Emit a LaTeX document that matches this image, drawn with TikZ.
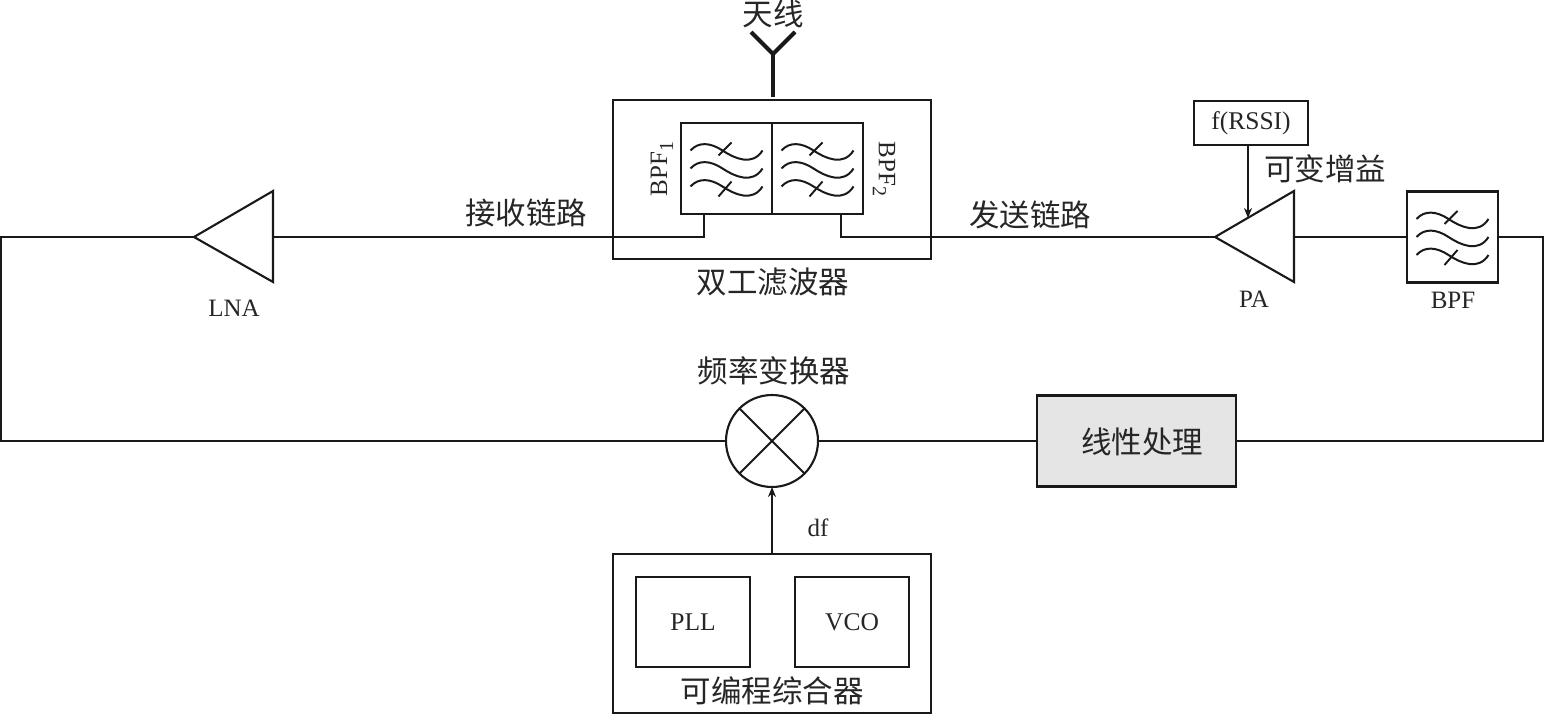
\documentclass[tikz,border=0pt]{standalone}
\usepackage{fontspec}
\setmainfont{Liberation Serif}
\newfontfamily\cjk{Noto Sans CJK SC}
\usetikzlibrary{arrows.meta,calc}
\newcommand{\subnum}[1]{\raisebox{-6pt}{\fontsize{20}{20}\selectfont #1}}
\tikzset{
  line/.style={draw=black!90,line width=2.1pt},
  thinline/.style={draw=black!90,line width=1.7pt},
  boxnode/.style={line,rectangle,inner sep=0pt,outer sep=0pt,minimum width=#1},
  cn/.style={font=\cjk\fontsize{30.5}{30.5}\selectfont,text=black!85,inner sep=0pt},
  lat/.style={font=\fontsize{25}{25}\selectfont,text=black!85,inner sep=0pt},
  arr/.style={thinline,-{Stealth[length=10pt,width=8pt]}},
  wave/.pic={
    \foreach \dy in {-18,0,18}{
      \draw[line width=2pt,black!90,shift={(0,\dy)}] (-36,0) .. controls (-28,-9) and (-16,-8) .. (-4,0) .. controls (8,8) and (26,16) .. (36,0);
    }
    \draw[line width=1.9pt,black!90] (-8,-13) -- (5,-26);
    \draw[line width=1.9pt,black!90] (-8,28) -- (5,13);
  }
}
\begin{document}
\begin{tikzpicture}[x=1pt,y=-1pt]
\useasboundingbox (0,0) rectangle (1544,714);

% boxes
\node[boxnode=318pt,minimum height=159pt] (duplexer) at (772,179.5) {};
\node[boxnode=91pt,minimum height=91pt] (bpfa) at (726.5,168.5) {};
\node[boxnode=91pt,minimum height=91pt] (bpfb) at (817.5,168.5) {};
\node[boxnode=91pt,minimum height=91pt] (bpf) at (1452.5,237) {};
\node[boxnode=114pt,minimum height=44pt,font=\fontsize{25.5}{25.5}\selectfont,text=black!85] (rssi) at (1251,123) {f(RSSI)};
\node[boxnode=199pt,minimum height=91pt,fill=black!10] (linear) at (1136.5,441) {};
\node[boxnode=318pt,minimum height=159pt] (synth) at (772,633.5) {};
\node[boxnode=114pt,minimum height=90pt,font=\fontsize{25.5}{25.5}\selectfont,text=black!85] (pll) at (693,622) {PLL};
\node[boxnode=114pt,minimum height=90pt,font=\fontsize{25.5}{25.5}\selectfont,text=black!85] (vco) at (852,622) {VCO};

\pic at (726.5,168.5) {wave};
\pic at (817.5,168.5) {wave};
\pic at (1452.5,237) {wave};

% mixer
\node[line,circle,inner sep=0pt,outer sep=0pt,minimum size=92pt] (mixer) at (772,441) {};
\draw[line] (mixer.45) -- (mixer.225) (mixer.135) -- (mixer.315);

% amplifiers
\coordinate (lnatip) at (194,237);
\coordinate (lnaback) at (273,237);
\draw[line,line join=miter] (lnatip) -- (273,191) -- (273,282) -- cycle;
\coordinate (patip) at (1215,237);
\coordinate (paback) at (1294,237);
\coordinate (pagain) at (1248,218);
\draw[line,line join=miter] (patip) -- (1294,191) -- (1294,282) -- cycle;

% antenna
\coordinate (antfoot) at (773,97);
\coordinate (antjoin) at (773,54);
\coordinate (antl) at (751,32);
\coordinate (antr) at (795,32);
\draw[line width=4pt,black!90] (antfoot) -- (antjoin);
\draw[line width=4pt,black!90,line join=miter] (antl) -- (antjoin) -- (antr);

% connectors
\coordinate (leftrx) at (704,214);
\coordinate (righttx) at (841,214);
\draw[line] (leftrx) -- (704,237) -- (lnaback);
\draw[line] (righttx) -- (841,237) -- (patip);
\draw[line] (paback) -- (bpf.west);
\draw[line] (lnatip) -- (1,237) -- (1,441) -- (mixer.west);
\draw[line] (mixer.east) -- (linear.west);
\draw[line] (linear.east) -- (1543,441) -- (1543,237) -- (bpf.east);
\draw[arr] (rssi.south -| pagain) -- (pagain);
\draw[arr] (synth.north) -- (mixer.south);

% labels
\node[cn] (t1) at (773,14) {天线};
\node[cn] (t2) at (526,213) {接收链路};
\node[cn] (t3) at (1030,215) {发送链路};
\node[cn] (t4) at (773,282) {双工滤波器};
\node[cn] (t5) at (774,371) {频率变换器};
\node[cn] (t6) at (1325,169) {可变增益};
\node[cn] (t7) at (1142,442) {线性处理};
\node[cn] (t8) at (772,691) {可编程综合器};
\node[lat] (l1) at (234,308) {LNA};
\node[lat] (l2) at (1254,299) {PA};
\node[lat] (l3) at (1453,300) {BPF};
\node[lat] (l4) at (818,528) {df};
\node[lat,rotate=90] (l5) at (662,169) {BPF\subnum{1}};
\node[lat,rotate=-90] (l6) at (884,169) {BPF\subnum{2}};
\end{tikzpicture}
\end{document}
